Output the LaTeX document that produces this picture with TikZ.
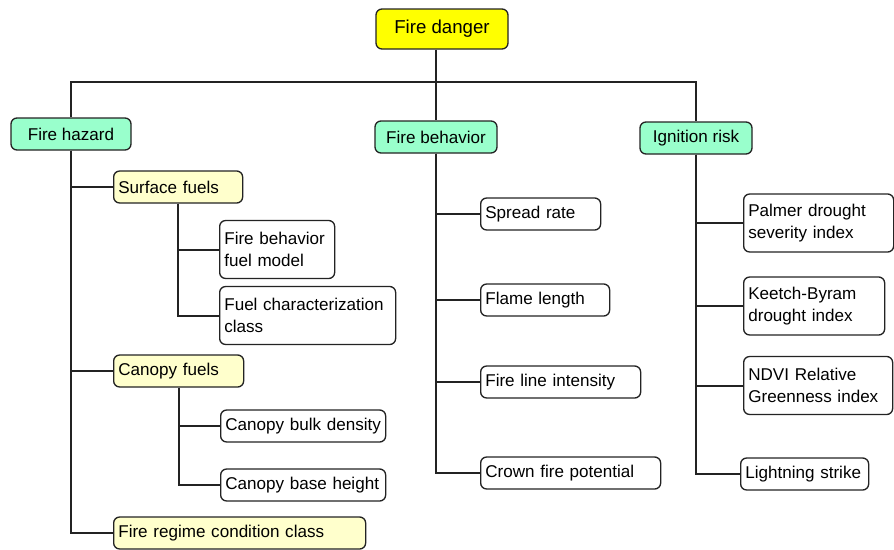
\documentclass[tikz,border=0pt]{standalone}
\usepackage{fontspec}
\setmainfont{Liberation Sans}
\definecolor{dangeryellow}{RGB}{255,255,0}
\definecolor{levelgreen}{RGB}{153,255,204}
\definecolor{paleyellow}{RGB}{255,255,204}
\definecolor{edgegray}{RGB}{35,35,35}
\tikzset{
  box/.style={draw=edgegray, line width=1pt, rounded corners=4.5pt, anchor=west, align=left,
    inner xsep=3.5pt, inner ysep=0pt, minimum height=24pt, font=\fontsize{12.8}{16.5}\selectfont},
  head/.style={box, anchor=center, align=center, fill=levelgreen},
  fuel/.style={box, fill=paleyellow},
  leaf/.style={box, fill=white},
  tall/.style={minimum height=43.5pt},
  link/.style={draw=edgegray, line width=1.5pt},
}
\begin{document}
\begin{tikzpicture}[x=0.75pt, y=-0.75pt]
  \useasboundingbox (0,0) rectangle (894,550);

  % Top levels
  \node[head, fill=dangeryellow, minimum width=99pt, minimum height=30pt, font=\fontsize{14}{17}\selectfont] (danger) at (442,29) {Fire danger};
  \node[head, minimum width=90pt] (hazard) at (71,134) {Fire hazard};
  \node[head, minimum width=91.5pt] (behavior) at (436,137) {Fire behavior};
  \node[head, minimum width=84pt] (ignition) at (696,138) {Ignition risk};

  % Fire hazard
  \node[fuel, text width=89.75pt] (surface) at (113,187) {Surface fuels};
  \node[leaf, tall, text width=79.25pt] (fbmodel) at (219,249.5) {Fire behavior\\fuel model};
  \node[leaf, tall, text width=125pt] (fuelclass) at (219,315.5) {Fuel characterization\\class};
  \node[fuel, text width=90.5pt] (canopy) at (113,371) {Canopy fuels};
  \node[leaf, text width=116.75pt] (bulk) at (220,426) {Canopy bulk density};
  \node[leaf, text width=116.75pt] (base) at (220,485) {Canopy base height};
  \node[fuel, text width=182pt] (regime) at (113,533) {Fire regime condition class};

  % Fire behavior
  \node[leaf, text width=83pt] (spread) at (480,214) {Spread rate};
  \node[leaf, text width=89.75pt] (flame) at (480,300) {Flame length};
  \node[leaf, text width=113pt] (intensity) at (480,382) {Fire line intensity};
  \node[leaf, text width=128pt] (crown) at (480,473) {Crown fire potential};

  % Ignition risk
  \node[leaf, tall, text width=105.5pt] (palmer) at (743,223) {Palmer drought\\severity index};
  \node[leaf, tall, text width=98.75pt] (keetch) at (743,306) {Keetch-Byram\\drought index};
  \node[leaf, tall, text width=104.75pt] (ndvi) at (743,385.5) {NDVI Relative\\Greenness index};
  \node[leaf, text width=89pt] (lightning) at (740,474) {Lightning strike};

  % Connectors
  \coordinate (bus) at (437,82);
  \draw[link] (behavior.north |- danger.south) -- (behavior.north);
  \draw[link] (hazard.north) |- (bus) -| (ignition.north);
  \foreach \n in {surface, canopy, regime}
    \draw[link] (hazard.south) |- (\n.west);
  \foreach \n in {fbmodel, fuelclass}
    \draw[link] (surface.south) |- (\n.west);
  \foreach \n in {bulk, base}
    \draw[link] (canopy.south) |- (\n.west);
  \foreach \n in {spread, flame, intensity, crown}
    \draw[link] (behavior.south) |- (\n.west);
  \foreach \n in {palmer, keetch, ndvi, lightning}
    \draw[link] (ignition.south) |- (\n.west);
\end{tikzpicture}
\end{document}
